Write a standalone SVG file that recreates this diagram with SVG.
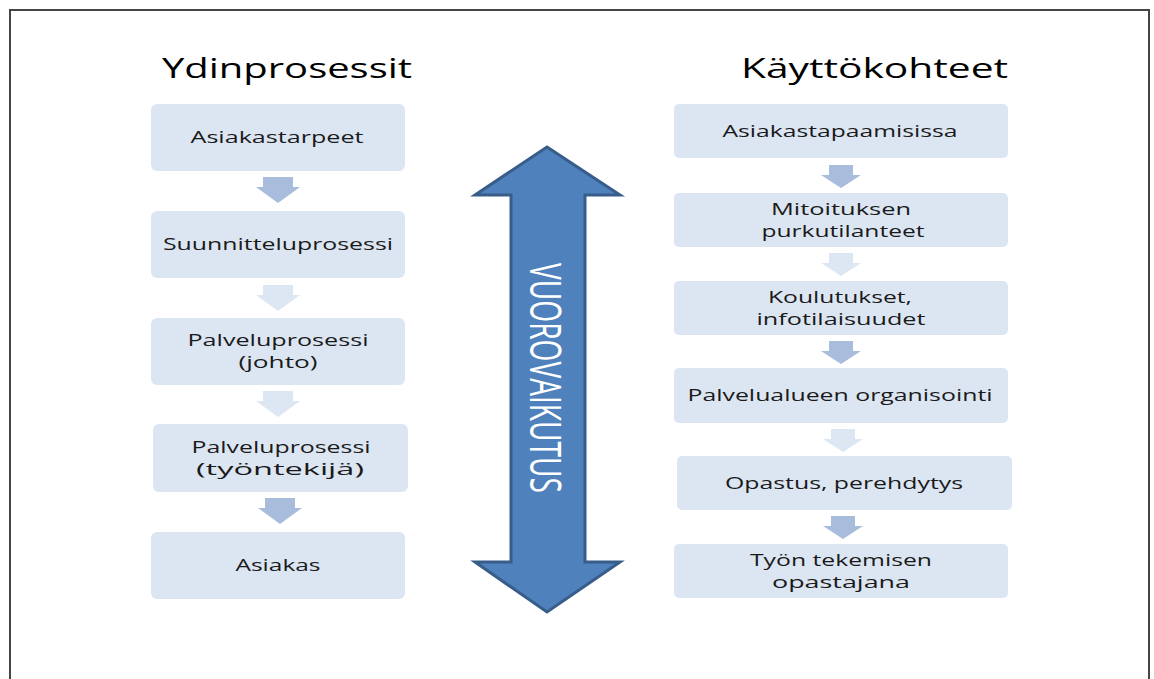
<svg xmlns="http://www.w3.org/2000/svg" width="1154" height="679" viewBox="0 0 1154 679">
  <defs>
    <style>
      .box { fill: #dce6f2; }
      .lbl { font-family: "Open Sans", "Noto Sans", "Liberation Sans", sans-serif; font-size: 17px; fill: #1a1a1a; text-anchor: middle; }
      .title { font-family: "Open Sans", "Noto Sans", "Liberation Sans", sans-serif; font-size: 28px; fill: #000; }
      .dark { fill: #a8bcdb; }
      .light { fill: #dde7f3; }
      .frame { fill: none; stroke: #454545; stroke-width: 2; }
    </style>
  </defs>

  <rect width="1154" height="679" fill="#ffffff"/>
  <!-- frame, open at the bottom -->
  <path class="frame" d="M10,679 V10 H1149 V679"/>

  <!-- column titles -->
  <text class="title" x="162" y="78" textLength="250" lengthAdjust="spacingAndGlyphs">Ydinprosessit</text>
  <text class="title" x="741" y="78" textLength="267" lengthAdjust="spacingAndGlyphs">Käyttökohteet</text>

  <!-- left column: core processes -->
  <g id="asiakastarpeet">
    <rect class="box" x="151" y="104" width="254" height="67" rx="6"/>
    <text class="lbl" x="277" y="143" textLength="173" lengthAdjust="spacingAndGlyphs">Asiakastarpeet</text>
  </g>
  <g id="suunnitteluprosessi">
    <rect class="box" x="151" y="211" width="254" height="67" rx="6"/>
    <text class="lbl" x="278" y="250" textLength="230" lengthAdjust="spacingAndGlyphs">Suunnitteluprosessi</text>
  </g>
  <g id="palveluprosessi-johto">
    <rect class="box" x="151" y="318" width="254" height="67" rx="6"/>
    <text class="lbl" x="278" y="346" textLength="181" lengthAdjust="spacingAndGlyphs">Palveluprosessi</text>
    <text class="lbl" x="278" y="368" textLength="79" lengthAdjust="spacingAndGlyphs">(johto)</text>
  </g>
  <g id="palveluprosessi-tyontekija">
    <rect class="box" x="153" y="424" width="255" height="68" rx="6"/>
    <text class="lbl" x="281" y="453" textLength="179" lengthAdjust="spacingAndGlyphs">Palveluprosessi</text>
    <text class="lbl" x="280" y="475" textLength="168" lengthAdjust="spacingAndGlyphs">(työntekijä)</text>
  </g>
  <g id="asiakas">
    <rect class="box" x="151" y="532" width="254" height="67" rx="6"/>
    <text class="lbl" x="278" y="571" textLength="85" lengthAdjust="spacingAndGlyphs">Asiakas</text>
  </g>

  <!-- right column: use cases -->
  <g id="asiakastapaamisissa">
    <rect class="box" x="674" y="104" width="334" height="54" rx="5"/>
    <text class="lbl" x="840" y="137" textLength="235" lengthAdjust="spacingAndGlyphs">Asiakastapaamisissa</text>
  </g>
  <g id="mitoituksen-purkutilanteet">
    <rect class="box" x="674" y="193" width="334" height="54" rx="5"/>
    <text class="lbl" x="841" y="215" textLength="140" lengthAdjust="spacingAndGlyphs">Mitoituksen</text>
    <text class="lbl" x="843" y="237" textLength="163" lengthAdjust="spacingAndGlyphs">purkutilanteet</text>
  </g>
  <g id="koulutukset">
    <rect class="box" x="674" y="281" width="334" height="54" rx="5"/>
    <text class="lbl" x="840" y="303" textLength="144" lengthAdjust="spacingAndGlyphs">Koulutukset,</text>
    <text class="lbl" x="841" y="325" textLength="169" lengthAdjust="spacingAndGlyphs">infotilaisuudet</text>
  </g>
  <g id="palvelualueen-organisointi">
    <rect class="box" x="674" y="368" width="334" height="55" rx="5"/>
    <text class="lbl" x="840" y="401" textLength="305" lengthAdjust="spacingAndGlyphs">Palvelualueen organisointi</text>
  </g>
  <g id="opastus-perehdytys">
    <rect class="box" x="677" y="456" width="335" height="54" rx="5"/>
    <text class="lbl" x="844" y="489" textLength="238" lengthAdjust="spacingAndGlyphs">Opastus, perehdytys</text>
  </g>
  <g id="tyon-tekemisen-opastajana">
    <rect class="box" x="674" y="544" width="334" height="54" rx="5"/>
    <text class="lbl" x="841" y="566" textLength="182" lengthAdjust="spacingAndGlyphs">Työn tekemisen</text>
    <text class="lbl" x="841" y="588" textLength="138" lengthAdjust="spacingAndGlyphs">opastajana</text>
  </g>

  <!-- two-way interaction arrow -->
  <g id="vuorovaikutus">
    <path d="M547,147 L620,195 L585,195 L585,562 L620,562 L547,612 L475,562 L511,562 L511,195 L475,195 Z"
          fill="#4f81bd" stroke="#385d8a" stroke-width="3" stroke-linejoin="miter"/>
    <text transform="translate(530,378) rotate(90)" x="0" y="0" text-anchor="middle"
          font-family="'Liberation Sans Narrow', 'Open Sans', 'Liberation Sans', sans-serif"
          font-size="43" fill="#ffffff" textLength="230" lengthAdjust="spacingAndGlyphs">VUOROVAIKUTUS</text>
  </g>

  <!-- flow arrows between steps -->
  <g id="connectors">
    <path class="dark"  d="M263,177 H293 V187 H300 L278,203 L256,187 H263 Z"/>
    <path class="light" d="M263,285 H293 V295 H300 L278,311 L256,295 H263 Z"/>
    <path class="light" d="M263,391 H293 V401 H300 L278,417 L256,401 H263 Z"/>
    <path class="dark"  d="M265,498 H295 V508 H302 L280,524 L258,508 H265 Z"/>

    <path class="dark"  d="M829,165 H853 V175 H861 L841,188 L821,175 H829 Z"/>
    <path class="light" d="M829,253 H853 V263 H861 L841,276 L821,263 H829 Z"/>
    <path class="dark"  d="M829,341 H853 V351 H861 L841,364 L821,351 H829 Z"/>
    <path class="light" d="M831,429 H855 V439 H863 L843,452 L823,439 H831 Z"/>
    <path class="dark"  d="M831,516 H855 V526 H863 L843,539 L823,526 H831 Z"/>
  </g>
</svg>
